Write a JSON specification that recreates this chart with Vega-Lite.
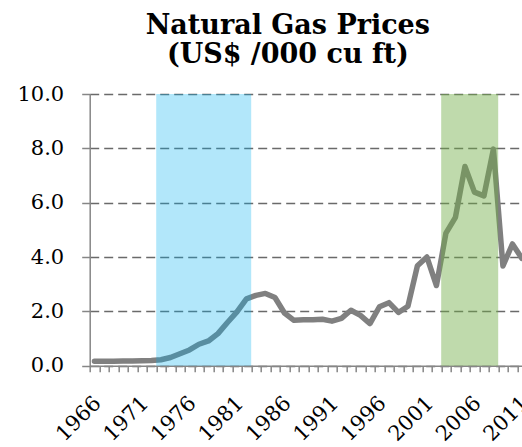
{
  "$schema": "https://vega.github.io/schema/vega-lite/v6.json",
  "width": 432.25,
  "height": 271.7,
  "autosize": "none",
  "padding": {"left": 89.7, "top": 94, "right": 0, "bottom": 81.3},
  "background": "white",
  "config": {"view": {"stroke": null}, "font": "DejaVu Serif"},
  "title": {
    "text": ["Natural Gas Prices", "(US$ /000 cu ft)"],
    "font": "DejaVu Serif",
    "fontSize": 27,
    "fontWeight": "bold",
    "color": "#000000",
    "anchor": "middle",
    "frame": "group",
    "dx": -18,
    "offset": 14,
    "lineHeight": 29
  },
  "datasets": {
    "prices": [
      {"year": 1966, "price": 0.16}, {"year": 1967, "price": 0.16}, {"year": 1968, "price": 0.16},
      {"year": 1969, "price": 0.17}, {"year": 1970, "price": 0.17}, {"year": 1971, "price": 0.18},
      {"year": 1972, "price": 0.19}, {"year": 1973, "price": 0.22}, {"year": 1974, "price": 0.30},
      {"year": 1975, "price": 0.44}, {"year": 1976, "price": 0.58}, {"year": 1977, "price": 0.79},
      {"year": 1978, "price": 0.91}, {"year": 1979, "price": 1.18}, {"year": 1980, "price": 1.59},
      {"year": 1981, "price": 1.98}, {"year": 1982, "price": 2.46}, {"year": 1983, "price": 2.59},
      {"year": 1984, "price": 2.66}, {"year": 1985, "price": 2.51}, {"year": 1986, "price": 1.94},
      {"year": 1987, "price": 1.67}, {"year": 1988, "price": 1.69}, {"year": 1989, "price": 1.69},
      {"year": 1990, "price": 1.71}, {"year": 1991, "price": 1.64}, {"year": 1992, "price": 1.74},
      {"year": 1993, "price": 2.04}, {"year": 1994, "price": 1.85}, {"year": 1995, "price": 1.55},
      {"year": 1996, "price": 2.17}, {"year": 1997, "price": 2.32}, {"year": 1998, "price": 1.96},
      {"year": 1999, "price": 2.19}, {"year": 2000, "price": 3.68}, {"year": 2001, "price": 4.00},
      {"year": 2002, "price": 2.95}, {"year": 2003, "price": 4.88}, {"year": 2004, "price": 5.46},
      {"year": 2005, "price": 7.33}, {"year": 2006, "price": 6.39}, {"year": 2007, "price": 6.25},
      {"year": 2008, "price": 7.97}, {"year": 2009, "price": 3.67}, {"year": 2010, "price": 4.48},
      {"year": 2011, "price": 3.95}
    ],
    "bands": [
      {"start": 1972.5, "end": 1982.5, "period": "1970s"},
      {"start": 2002.5, "end": 2008.5, "period": "2000s"}
    ]
  },
  "layer": [
    {
      "data": {"name": "prices"},
      "mark": {"type": "line", "color": "#808080", "strokeWidth": 5.5, "strokeCap": "round", "strokeJoin": "round"},
      "encoding": {
        "x": {
          "field": "year",
          "type": "quantitative",
          "scale": {"domain": [1965.5, 2011], "nice": false, "zero": false},
          "axis": {
            "orient": "bottom",
            "title": null,
            "values": [1965.5, 1966.5, 1967.5, 1968.5, 1969.5, 1970.5, 1971.5, 1972.5, 1973.5, 1974.5, 1975.5, 1976.5, 1977.5, 1978.5, 1979.5, 1980.5, 1981.5, 1982.5, 1983.5, 1984.5, 1985.5, 1986.5, 1987.5, 1988.5, 1989.5, 1990.5, 1991.5, 1992.5, 1993.5, 1994.5, 1995.5, 1996.5, 1997.5, 1998.5, 1999.5, 2000.5, 2001.5, 2002.5, 2003.5, 2004.5, 2005.5, 2006.5, 2007.5, 2008.5, 2009.5, 2010.5],
            "labels": false,
            "ticks": true,
            "tickSize": 6,
            "tickWidth": 1.5,
            "tickColor": "#868686",
            "domain": true,
            "domainColor": "#868686",
            "domainWidth": 1.5,
            "grid": false
          }
        },
        "y": {
          "field": "price",
          "type": "quantitative",
          "scale": {"domain": [0, 10], "nice": false},
          "axis": {
            "title": null,
            "values": [0, 2, 4, 6, 8, 10],
            "format": ".1f",
            "labelFont": "DejaVu Serif",
            "labelFontSize": 21,
            "labelColor": "#000000",
            "labelPadding": 18,
            "tickSize": 8,
            "tickWidth": 1.5,
            "tickColor": "#868686",
            "domainColor": "#868686",
            "domainWidth": 1.5,
            "grid": true,
            "gridDash": [9, 5],
            "gridColor": "#6a6a6a",
            "gridWidth": 1.5
          }
        }
      }
    },
    {
      "data": {"name": "bands"},
      "mark": {"type": "rect"},
      "encoding": {
        "x": {
          "field": "start",
          "type": "quantitative",
          "axis": {
            "orient": "bottom",
            "title": null,
            "values": [1966, 1971, 1976, 1981, 1986, 1991, 1996, 2001, 2006, 2011],
            "format": "d",
            "ticks": false,
            "domain": false,
            "grid": false,
            "labelAngle": -45,
            "labelAlign": "right",
            "labelBaseline": "middle",
            "labelPadding": 34,
            "labelOffset": 3,
            "labelFont": "DejaVu Serif",
            "labelFontSize": 21,
            "labelColor": "#000000",
            "labelOverlap": false,
            "labelFlush": false,
            "labelBound": false
          }
        },
        "x2": {"field": "end"},
        "y": {
          "datum": 10,
          "type": "quantitative",
          "axis": {
            "title": null,
            "values": [0, 2, 4, 6, 8, 10],
            "format": ".1f",
            "labelFont": "DejaVu Serif",
            "labelFontSize": 21,
            "labelColor": "#000000",
            "labelPadding": 18,
            "tickSize": 8,
            "tickWidth": 1.5,
            "tickColor": "#868686",
            "domainColor": "#868686",
            "domainWidth": 1.5,
            "grid": true,
            "gridDash": [9, 5],
            "gridColor": "#6a6a6a",
            "gridWidth": 1.5
          }
        },
        "y2": {"datum": 0},
        "color": {"field": "period", "type": "nominal", "scale": {"domain": ["1970s", "2000s"], "range": ["#00B0F0", "#70AD47"]}, "legend": null},
        "opacity": {"field": "period", "type": "nominal", "scale": {"domain": ["1970s", "2000s"], "range": [0.3, 0.45]}, "legend": null}
      }
    }
  ],
  "resolve": {"axis": {"x": "independent"}}
}
